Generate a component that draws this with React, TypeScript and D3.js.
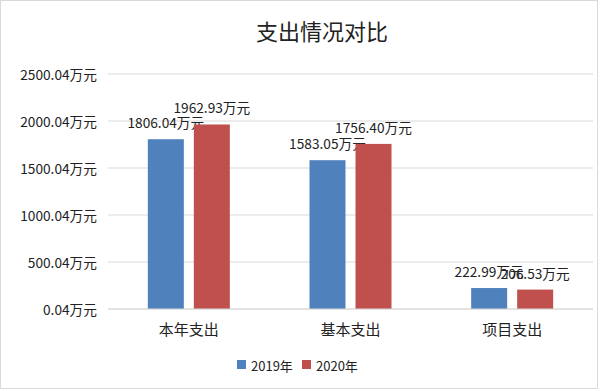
import React, { useEffect, useRef } from 'react'
import * as d3 from 'd3'

const categories = ['本年支出', '基本支出', '项目支出']
const seriesNames = ['2019年', '2020年']
const values2019 = [1806.04, 1583.05, 222.99]
const values2020 = [1962.93, 1756.4, 206.53]
const tickValues = [0, 500, 1000, 1500, 2000, 2500]
const colors = ['#4f81bd', '#c0504d']

const W = 600
const H = 391
const FONT = '"Noto Sans CJK SC", "Noto Sans", sans-serif'

export default function App() {
  const ref = useRef<SVGSVGElement>(null)

  useEffect(() => {
    const svg = d3.select(ref.current)
    svg.selectAll('*').remove()

    const margin = { left: 108, right: 7, top: 74, bottom: 82 }
    const innerW = W - margin.left - margin.right
    const innerH = H - margin.top - margin.bottom

    // outer frame
    svg.append('rect')
      .attr('x', 0.5).attr('y', 0.5)
      .attr('width', W - 3).attr('height', H - 3)
      .attr('fill', '#fff')
      .attr('stroke', '#d9d9d9')

    svg.append('text')
      .attr('x', 322).attr('y', 30)
      .attr('text-anchor', 'middle')
      .attr('dominant-baseline', 'central')
      .attr('font-family', FONT)
      .attr('font-size', 22)
      .attr('fill', '#222')
      .text('支出情况对比')

    const g = svg.append('g').attr('transform', `translate(${margin.left},${margin.top})`)

    const x = d3.scaleBand().domain(categories).range([0, innerW])
    const y = d3.scaleLinear().domain([0, 2500]).range([innerH, 0])

    // grid + y labels
    g.selectAll('line.grid')
      .data(tickValues)
      .enter()
      .append('line')
      .attr('x1', 0).attr('x2', innerW)
      .attr('y1', d => y(d)).attr('y2', d => y(d))
      .attr('stroke', '#d9d9d9')
      .attr('stroke-width', 1)

    g.selectAll('text.ytick')
      .data(tickValues)
      .enter()
      .append('text')
      .attr('x', -11)
      .attr('y', d => y(d))
      .attr('text-anchor', 'end')
      .attr('dominant-baseline', 'central')
      .attr('font-family', FONT)
      .attr('font-size', 13.7)
      .attr('fill', '#222')
      .text(d => (d + 0.04).toFixed(2) + '万元')

    const barW = 36
    const gap = 10
    const series = [values2019, values2020]

    series.forEach((vals, si) => {
      const offset = si === 0 ? -gap / 2 - barW : gap / 2
      g.selectAll('rect.s' + si)
        .data(vals)
        .enter()
        .append('rect')
        .attr('x', (d, i) => x(categories[i])! + x.bandwidth() / 2 + offset)
        .attr('y', d => y(d))
        .attr('width', barW)
        .attr('height', d => innerH - y(d))
        .attr('fill', colors[si])

      g.selectAll('text.l' + si)
        .data(vals)
        .enter()
        .append('text')
        .attr('x', (d, i) => x(categories[i])! + x.bandwidth() / 2 + offset + barW / 2)
        .attr('y', d => y(d) - 17)
        .attr('text-anchor', 'middle')
        .attr('dominant-baseline', 'central')
        .attr('font-family', FONT)
        .attr('font-size', 13.7)
        .attr('fill', '#222')
        .text(d => d.toFixed(2) + '万元')
    })

    // x axis line
    g.append('line')
      .attr('x1', 0).attr('x2', innerW)
      .attr('y1', innerH).attr('y2', innerH)
      .attr('stroke', '#d9d9d9')

    g.selectAll('text.cat')
      .data(categories)
      .enter()
      .append('text')
      .attr('x', d => x(d)! + x.bandwidth() / 2)
      .attr('y', innerH + 19)
      .attr('text-anchor', 'middle')
      .attr('dominant-baseline', 'central')
      .attr('font-family', FONT)
      .attr('font-size', 15)
      .attr('fill', '#222')
      .text(d => d)

    // legend
    const legendX = [237, 302]
    seriesNames.forEach((name, i) => {
      svg.append('rect')
        .attr('x', legendX[i]).attr('y', 360)
        .attr('width', 9).attr('height', 9)
        .attr('fill', colors[i])
      svg.append('text')
        .attr('x', legendX[i] + 14).attr('y', 365)
        .attr('dominant-baseline', 'central')
        .attr('font-family', FONT)
        .attr('font-size', 13)
        .attr('fill', '#222')
        .text(name)
    })
  }, [])

  return (
    <svg
      ref={ref}
      width={W}
      height={H}
      style={{ position: 'absolute', left: 0, top: 0 }}
    />
  )
}
